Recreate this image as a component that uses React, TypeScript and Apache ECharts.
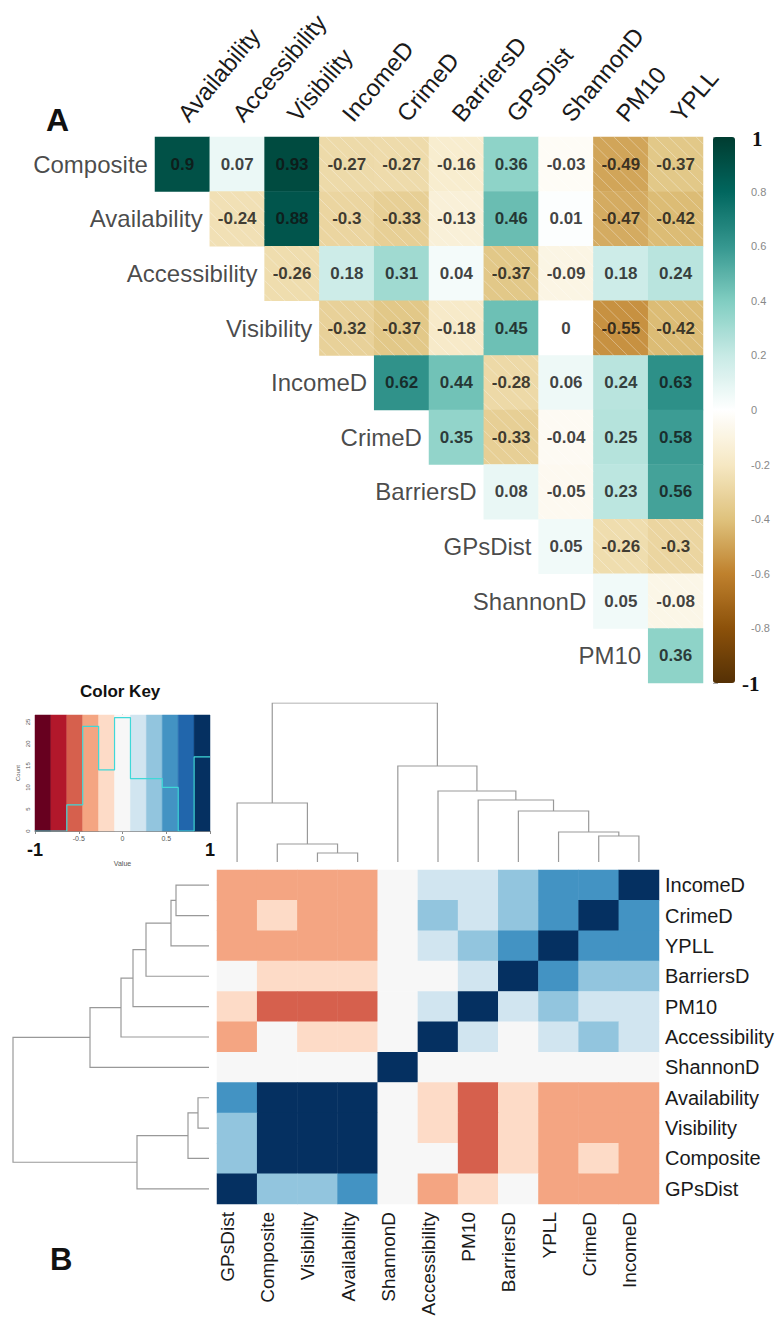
import React, { useEffect, useRef } from 'react';
import * as echarts from 'echarts';

// ---------- DATA ----------
const rowsA = ['Composite', 'Availability', 'Accessibility', 'Visibility', 'IncomeD', 'CrimeD', 'BarriersD', 'GPsDist', 'ShannonD', 'PM10'];
const colsA = ['Availability', 'Accessibility', 'Visibility', 'IncomeD', 'CrimeD', 'BarriersD', 'GPsDist', 'ShannonD', 'PM10', 'YPLL'];
const allVars = ['Composite', 'Availability', 'Accessibility', 'Visibility', 'IncomeD', 'CrimeD', 'BarriersD', 'GPsDist', 'ShannonD', 'PM10', 'YPLL'];

// upper triangle: each row = correlations with the following variables
const corrComposite = [0.9, 0.07, 0.93, -0.274, -0.27, -0.16, 0.36, -0.03, -0.49, -0.37];
const corrAvailability = [-0.24, 0.88, -0.3, -0.33, -0.13, 0.46, 0.01, -0.47, -0.42];
const corrAccessibility = [-0.26, 0.18, 0.31, 0.04, -0.37, -0.09, 0.18, 0.24];
const corrVisibility = [-0.32, -0.37, -0.18, 0.45, 0, -0.55, -0.42];
const corrIncomeD = [0.62, 0.44, -0.28, 0.06, 0.24, 0.63];
const corrCrimeD = [0.35, -0.33, -0.04, 0.25, 0.58];
const corrBarriersD = [0.08, -0.05, 0.23, 0.56];
const corrGPsDist = [0.05, -0.26, -0.3];
const corrShannonD = [0.05, -0.08];
const corrPM10 = [0.36];
const upperRows = [corrComposite, corrAvailability, corrAccessibility, corrVisibility, corrIncomeD, corrCrimeD, corrBarriersD, corrGPsDist, corrShannonD, corrPM10];

// panel B order
const rowOrderB = ['IncomeD', 'CrimeD', 'YPLL', 'BarriersD', 'PM10', 'Accessibility', 'ShannonD', 'Availability', 'Visibility', 'Composite', 'GPsDist'];
const colOrderB = ['GPsDist', 'Composite', 'Visibility', 'Availability', 'ShannonD', 'Accessibility', 'PM10', 'BarriersD', 'YPLL', 'CrimeD', 'IncomeD'];

// dendrogram merges: [a, b, height]; number = earlier merge index
type Node = string | number;
const colMerges: [Node, Node, number][] = [
  ['Visibility', 'Availability', 0.09],
  ['Composite', 0, 0.18],
  ['GPsDist', 1, 0.59],
  ['CrimeD', 'IncomeD', 0.26],
  ['YPLL', 3, 0.30],
  ['BarriersD', 4, 0.51],
  ['PM10', 5, 0.62],
  ['Accessibility', 6, 0.71],
  ['ShannonD', 7, 0.96],
  [2, 8, 1.59],
];
const rowMerges: [Node, Node, number][] = [
  ['IncomeD', 'CrimeD', 0.33],
  [0, 'YPLL', 0.38],
  [1, 'BarriersD', 0.63],
  [2, 'PM10', 0.76],
  [3, 'Accessibility', 0.88],
  [4, 'ShannonD', 1.19],
  ['Availability', 'Visibility', 0.11],
  [6, 'Composite', 0.21],
  [7, 'GPsDist', 0.72],
  [5, 8, 1.96],
];

const BrBG = ['#543005', '#8C510A', '#BF812D', '#DFC27D', '#F6E8C3', '#FFFFFF', '#C7EAE5', '#80CDC1', '#35978F', '#01665E', '#003C30'];
const RdBu = ['#67001F', '#B2182B', '#D6604D', '#F4A582', '#FDDBC7', '#F7F7F7', '#D1E5F0', '#92C5DE', '#4393C3', '#2166AC', '#053061'];
const keyTicksY = [0, 5, 10, 15, 20, 25];

// ---------- helpers ----------
function corr(a: string, b: string): number {
  if (a === b) return 1;
  const i = allVars.indexOf(a), j = allVars.indexOf(b);
  const lo = Math.min(i, j), hi = Math.max(i, j);
  return upperRows[lo][hi - lo - 1];
}
const fmt = (v: number) => {
  const s = String(Number(v.toFixed(2)));
  return s === '-0' ? '0' : s;
};

const dataA: number[][] = [];
rowsA.forEach((_, r) => {
  for (let c = r; c < colsA.length; c++) dataA.push([c, r, upperRows[r][c - r]]);
});
const hatchA = dataA.filter((d) => d[2] < 0);

const dataB: number[][] = [];
rowOrderB.forEach((rn, ri) => colOrderB.forEach((cn, ci) => dataB.push([ci, ri, corr(cn, rn)])));

const nBins = RdBu.length;
const edges = Array.from({ length: nBins + 1 }, (_, k) => -1 + (k * 2) / nBins);
const counts = new Array(nBins).fill(0);
allVars.forEach((a) => allVars.forEach((b) => {
  const v = corr(a, b);
  let k = Math.floor((v + 1) / (2 / nBins));
  if (k >= nBins) k = nBins - 1;
  counts[k]++;
}));
const histLine: number[][] = [];
counts.forEach((c, k) => { histLine.push([edges[k], c]); histLine.push([edges[k + 1], c]); });
const keyBins = counts.map((_, k) => [edges[k], edges[k + 1], k]);
const pieces = RdBu.map((color, k) => (k === nBins - 1 ? { gte: edges[k], lte: 1, color } : { gte: edges[k], lt: edges[k + 1], color }));

function dendro(merges: [Node, Node, number][], order: string[], horizontal: boolean) {
  const nx: number[] = [], nh: number[] = [];
  const get = (n: Node): [number, number] => (typeof n === 'number' ? [nx[n], nh[n]] : [order.indexOf(n), 0]);
  const segs: any[] = [];
  merges.forEach(([a, b, h], k) => {
    const [pa, ha] = get(a); const [pb, hb] = get(b);
    const pts = [[pa, ha], [pa, h], [pb, h], [pb, hb]];
    segs.push({ coords: horizontal ? pts.map(([p, hh]) => [hh, p]) : pts });
    nx[k] = (pa + pb) / 2; nh[k] = h;
  });
  return segs;
}

const FONT = '"Liberation Sans", Arial, sans-serif';
const KEY_MAX = 26.6;

function buildOption(): any {
  return {
    animation: false,
    backgroundColor: '#ffffff',
    textStyle: { fontFamily: FONT },
    grid: [
      { left: 155, top: 137, width: 548, height: 546 },
      { left: 713, top: 137, width: 22, height: 546 },
      { left: 217, top: 870, width: 442, height: 334 },
      { left: 217, top: 703, width: 442, height: 159 },
      { left: 13, top: 870, width: 196, height: 334 },
      { left: 35, top: 715, width: 175, height: 116 },
    ],
    xAxis: [
      { gridIndex: 0, type: 'category', data: colsA, position: 'top', axisLine: { show: false }, axisTick: { show: false }, splitLine: { show: false },
        axisLabel: { rotate: -50, fontSize: 24, color: '#1a1a1a', margin: 19, interval: 0 } },
      { gridIndex: 1, type: 'value', min: 0, max: 1, show: false },
      { gridIndex: 2, type: 'category', data: colOrderB, position: 'bottom', axisLine: { show: false }, axisTick: { show: false }, splitLine: { show: false },
        axisLabel: { rotate: 90, fontSize: 19, color: '#1a1a1a', margin: 8, interval: 0, verticalAlign: 'bottom' } },
      { gridIndex: 3, type: 'value', min: -0.5, max: 10.5, show: false },
      { gridIndex: 4, type: 'value', min: 0, max: 1.96, inverse: true, show: false },
      { gridIndex: 5, type: 'value', min: -1, max: 1, interval: 0.5, splitLine: { show: false },
        axisLine: { show: true, lineStyle: { color: '#888' } }, axisTick: { show: true, length: 3, lineStyle: { color: '#888' } },
        name: 'Value', nameLocation: 'middle', nameGap: 17, nameTextStyle: { fontSize: 7, color: '#555' },
        axisLabel: { fontSize: 7, color: '#555', margin: 4,
          formatter: (v: number) => (Math.abs(v) > 0.99 ? `{big|${v < 0 ? '-1' : '1'}}` : String(v)),
          rich: { big: { fontSize: 18, fontWeight: 'bold', color: '#111', padding: [6, 0, 0, 0] } } } },
    ],
    yAxis: [
      { gridIndex: 0, type: 'category', data: rowsA, inverse: true, show: false },
      { gridIndex: 1, type: 'value', min: -1, max: 1, interval: 0.2, position: 'right', splitLine: { show: false },
        axisLine: { show: false }, axisTick: { show: true, length: 5, lineStyle: { color: '#aaa' } },
        axisLabel: { fontSize: 11, color: '#888', margin: 16,
          formatter: (v: number) => (Math.abs(v) > 0.99 ? '' : String(Math.round(v * 10) / 10)) } },
      { gridIndex: 2, type: 'category', data: rowOrderB, inverse: true, position: 'right', axisLine: { show: false }, axisTick: { show: false }, splitLine: { show: false },
        axisLabel: { fontSize: 20, color: '#1a1a1a', margin: 6, interval: 0 } },
      { gridIndex: 3, type: 'value', min: 0, max: 1.59, show: false },
      { gridIndex: 4, type: 'value', min: -0.5, max: 10.5, inverse: true, show: false },
      { gridIndex: 5, type: 'value', min: 0, max: KEY_MAX, splitLine: { show: false },
        axisLine: { show: true, lineStyle: { color: '#888' } },
        axisTick: { show: true, length: 3, customValues: keyTicksY, lineStyle: { color: '#888' } },
        name: 'Count', nameLocation: 'middle', nameGap: 14, nameRotate: 90, nameTextStyle: { fontSize: 6, color: '#555' },
        axisLabel: { fontSize: 6, color: '#555', rotate: 90, margin: 4, customValues: keyTicksY } },
    ],
    visualMap: [
      { type: 'continuous', seriesIndex: 0, min: -1, max: 1, inRange: { color: BrBG }, show: true, calculable: false, hoverLink: false,
        left: 713, top: 137, itemWidth: 22, itemHeight: 546, padding: 0, orient: 'vertical' },
      { type: 'piecewise', seriesIndex: 3, pieces, show: false },
    ],
    series: [
      { type: 'heatmap', xAxisIndex: 0, yAxisIndex: 0, data: dataA, silent: true, emphasis: { disabled: true }, z: 2 },
      { type: 'custom', xAxisIndex: 0, yAxisIndex: 0, data: hatchA, silent: true, z: 3,
        renderItem: (params: any, api: any) => {
          const c = api.value(0), r = api.value(1);
          const ctr = api.coord([c, r]);
          const sz = api.size([1, 1]);
          const w = sz[0], h = sz[1];
          const x0 = ctr[0] - w / 2, y0 = ctr[1] - h / 2;
          const step = w / 4;
          const children: any[] = [];
          for (let d = -w + step / 2; d < w; d += step) {
            const xs = Math.max(0, d), ys = xs - d;
            const xe = Math.min(w, h + d), ye = xe - d;
            if (xe <= xs) continue;
            children.push({ type: 'line', shape: { x1: x0 + xs, y1: y0 + ys, x2: x0 + xe, y2: y0 + ye },
              style: { stroke: 'rgba(255,255,255,0.33)', lineWidth: 1 } });
          }
          return { type: 'group', children };
        } },
      { type: 'scatter', xAxisIndex: 0, yAxisIndex: 0, silent: true, symbolSize: 1, itemStyle: { color: 'rgba(0,0,0,0)' }, z: 6,
        data: rowsA.map((n, i) => ({ value: [i, i], name: n })),
        label: { show: true, position: 'left', distance: 34, formatter: '{b}', fontSize: 24, color: '#1a1a1a' } },
      { type: 'heatmap', xAxisIndex: 2, yAxisIndex: 2, data: dataB, silent: true, emphasis: { disabled: true } },
      { type: 'lines', coordinateSystem: 'cartesian2d', xAxisIndex: 3, yAxisIndex: 3, polyline: true, silent: true,
        data: dendro(colMerges, colOrderB, false), lineStyle: { color: '#999', width: 1.2, opacity: 1 } },
      { type: 'lines', coordinateSystem: 'cartesian2d', xAxisIndex: 4, yAxisIndex: 4, polyline: true, silent: true,
        data: dendro(rowMerges, rowOrderB, true), lineStyle: { color: '#999', width: 1.2, opacity: 1 } },
      { type: 'custom', xAxisIndex: 5, yAxisIndex: 5, data: keyBins, silent: true,
        renderItem: (params: any, api: any) => {
          const p0 = api.coord([api.value(0), KEY_MAX]);
          const p1 = api.coord([api.value(1), 0]);
          const col = RdBu[api.value(2)];
          return { type: 'rect', shape: { x: p0[0], y: p0[1], width: p1[0] - p0[0], height: p1[1] - p0[1] },
            style: { fill: col, stroke: col, lineWidth: 0.5 } };
        } },
      { type: 'line', xAxisIndex: 5, yAxisIndex: 5, data: histLine, symbol: 'none', silent: true, z: 5,
        lineStyle: { color: '#3fd8d8', width: 1.2 } },
      { type: 'scatter', xAxisIndex: 0, yAxisIndex: 0, silent: true, symbolSize: 1, itemStyle: { color: 'rgba(0,0,0,0)' }, z: 7,
        data: dataA,
        label: { show: true, position: 'inside', fontSize: 17, fontWeight: 'bold', color: '#111', formatter: (p: any) => fmt(p.value[2]) } },
    ],
    graphic: [
      { type: 'text', left: 46, top: 104, style: { text: 'A', font: `bold 32px ${FONT}`, fill: '#111' } },
      { type: 'text', left: 50, top: 1244, style: { text: 'B', font: `bold 31px ${FONT}`, fill: '#111' } },
      { type: 'text', left: 80, top: 683, style: { text: 'Color Key', font: `bold 17px ${FONT}`, fill: '#111' } },
      { type: 'text', left: 752, top: 128, style: { text: '1', font: 'bold 21px "Liberation Serif", serif', fill: '#111' } },
      { type: 'text', left: 742, top: 673, style: { text: '-1', font: 'bold 21px "Liberation Serif", serif', fill: '#111' } },
    ],
  };
}

export default function App() {
  const ref = useRef<HTMLDivElement>(null);
  useEffect(() => {
    if (!ref.current) return;
    const chart = echarts.init(ref.current, null, { renderer: 'svg' });
    chart.setOption(buildOption());
    return () => chart.dispose();
  }, []);
  return <div ref={ref} style={{ position: 'absolute', left: 0, top: 0, width: 777, height: 1324, background: '#fff' }} />;
}
